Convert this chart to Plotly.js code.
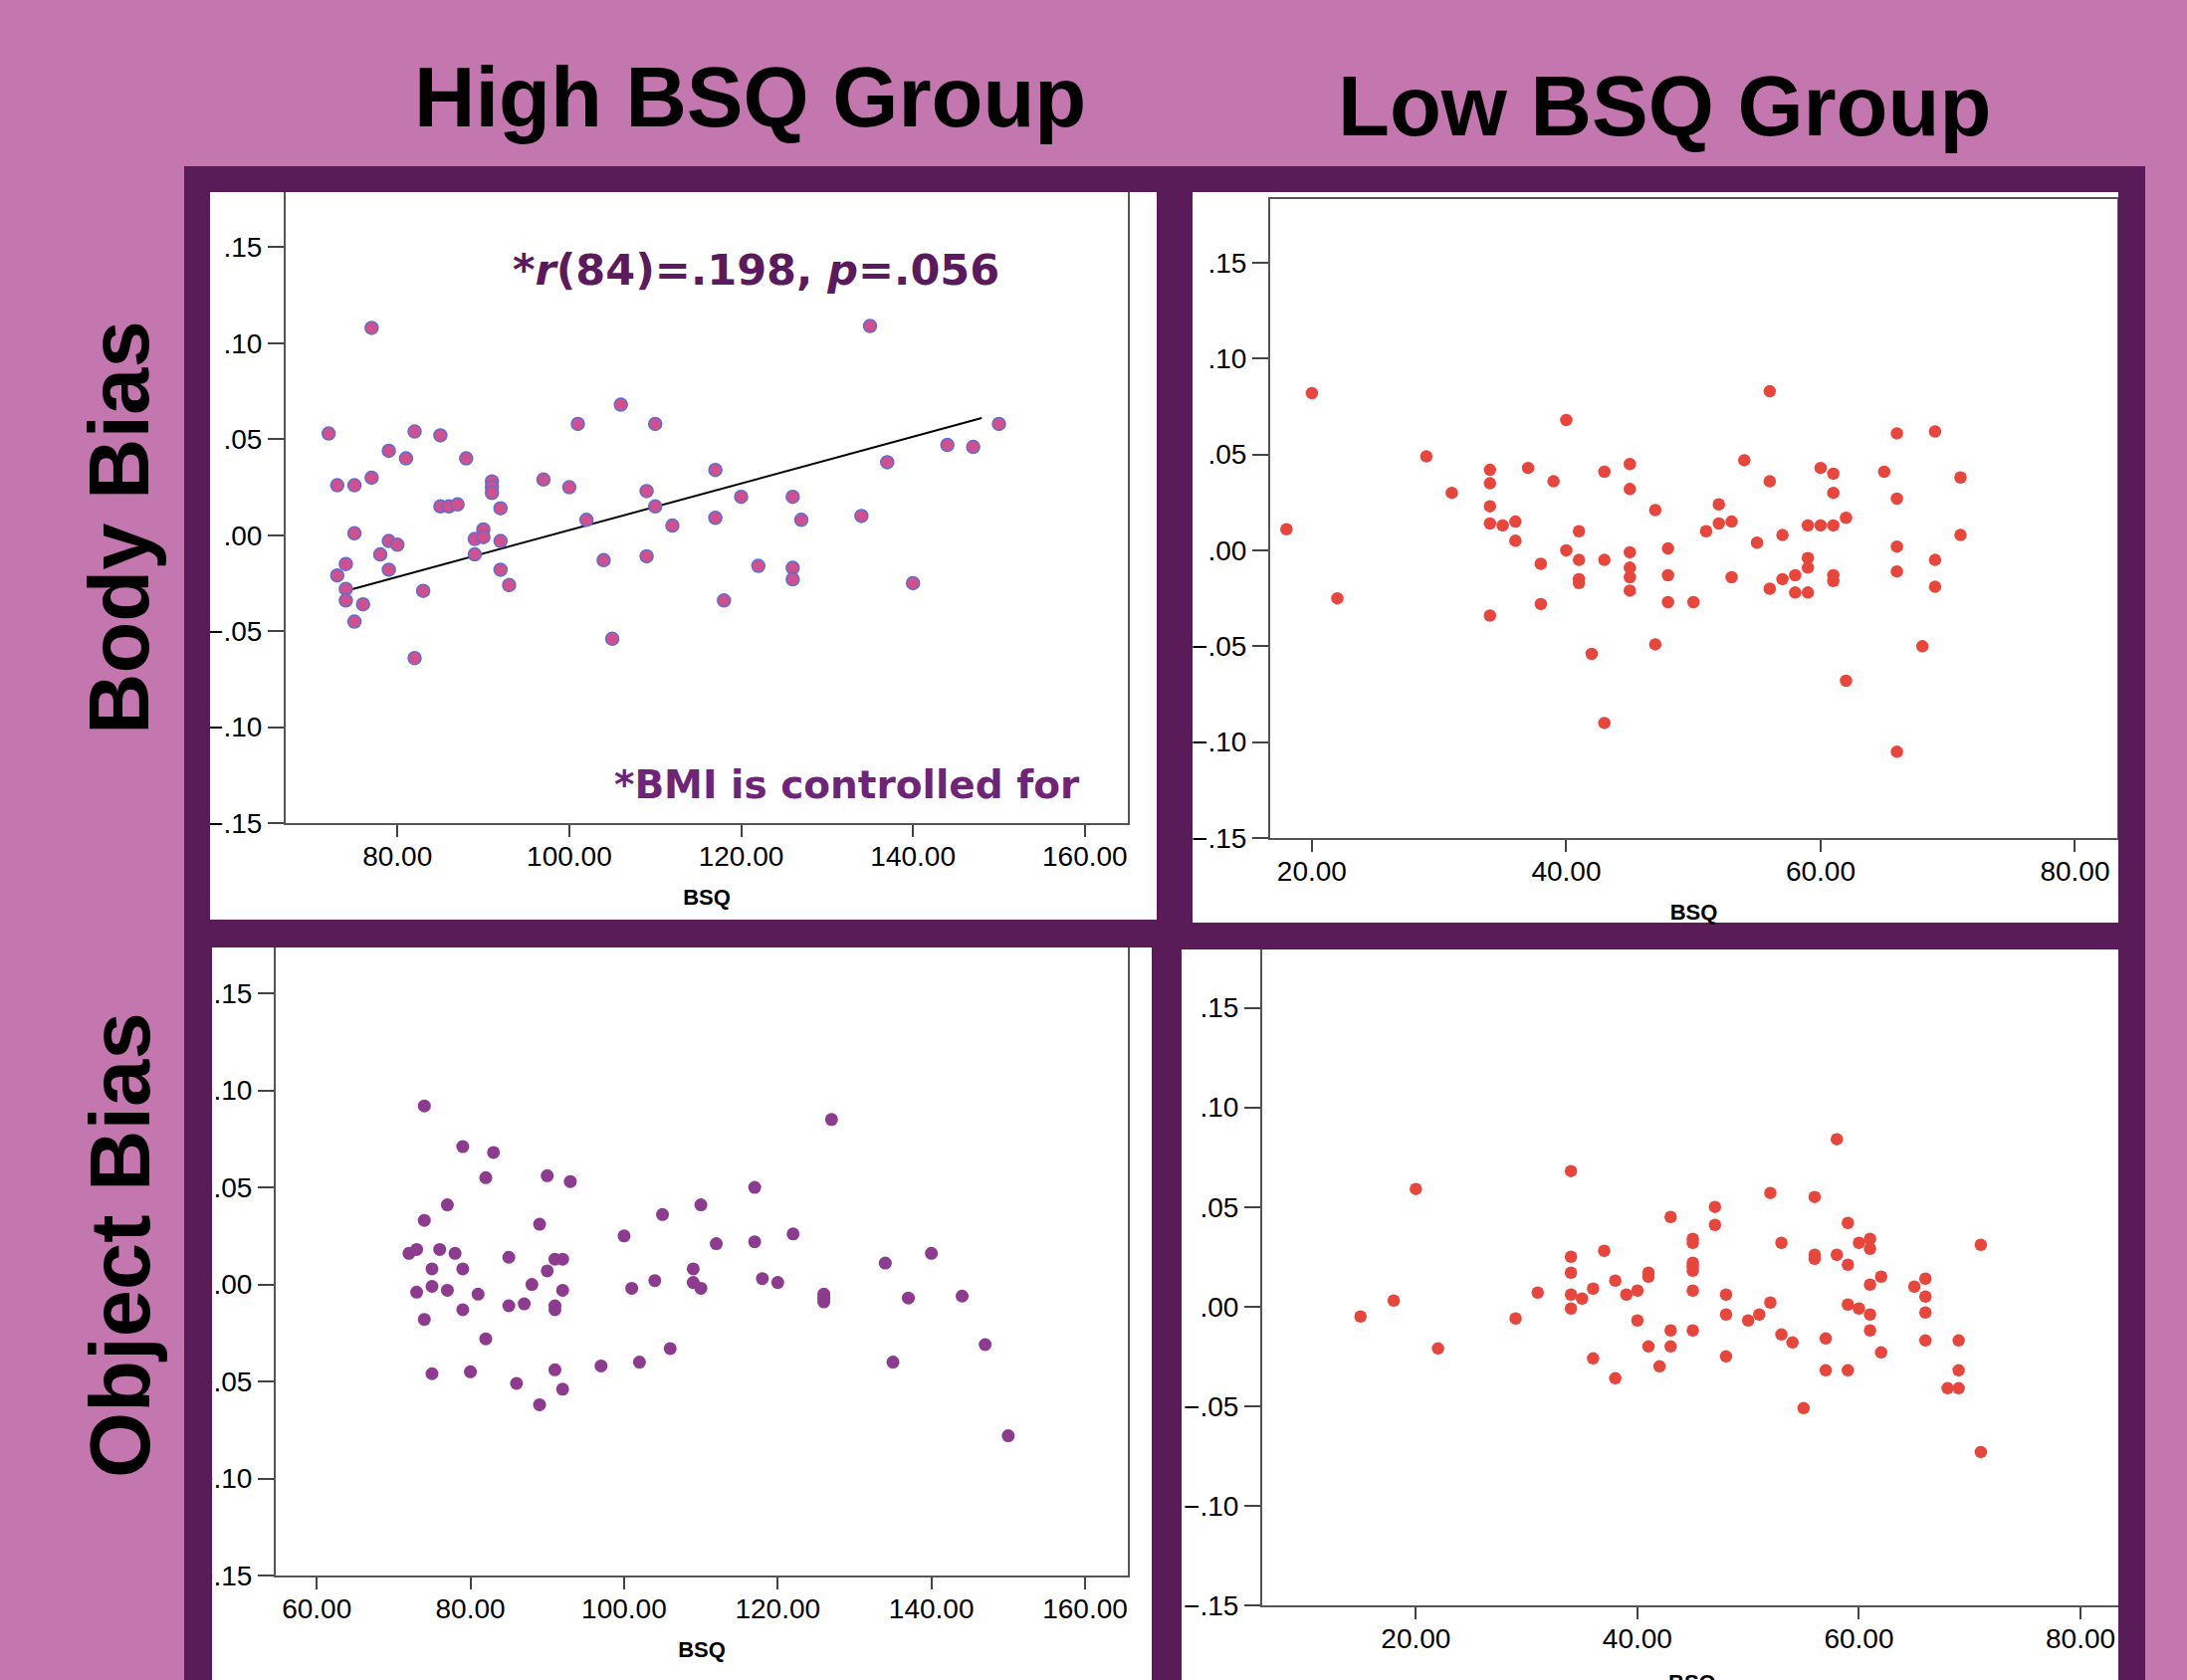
<!DOCTYPE html>
<html>
<head>
<meta charset="utf-8">
<script src="https://cdn.plot.ly/plotly-3.0.1.min.js"></script>
<style>html,body{margin:0;padding:0;background:#C476AE;}#chart{width:2197px;height:1688px;}</style>
</head>
<body>
<div id="chart"></div>
<script>
// ---------- DATA ----------
const columnTitles = ["High BSQ Group", "Low BSQ Group"];
const rowTitles = ["Body Bias", "Object Bias"];
const xTitle = "BSQ";

// High BSQ group – Body bias
const highBodyX = [72,77,73,75,77,79,81,82,85,88, 85,86,87,91,91,91,92,75,73,74, 74,74,76,75,78,79,80,79,83,82, 89,90,90,89,92,92,93,97,100,101, 102,106,110,109,110,112,104,105,109,117, 120,117,118,122,126,127,126,126,135,137, 134,140,144,147,150];
const highBodyY = [.053,.108,.026,.026,.030,.044,.040,.054,.052,.040, .015,.015,.016,.028,.025,.022,.014,.001,-.021,-.015, -.028,-.034,-.036,-.045,-.010,-.003,-.005,-.018,-.029,-.064, -.002,.003,-.001,-.010,-.003,-.018,-.026,.029,.025,.058, .008,.068,.058,.023,.015,.005,-.013,-.054,-.011,.034, .020,.009,-.034,-.016,.020,.008,-.017,-.023,.109,.038, .010,-.025,.047,.046,.058];
// fit line (as drawn)
const fitX = [74, 148];
const fitY = [-0.029, 0.061];

// Low BSQ group – Body bias
const lowBodyX = [18,20,22,29,31,34,34,34,34,35, 36,36,34,37,39,38,38,40,40,41, 41,41,41,42,43,43,43,45,45,45, 45,45,45,47,47,48,48,48,50,51, 52,52,53,53,54,55,56,56,56,57, 57,58,58,59,59,59,59,60,60,61, 61,61,61,61,62,62,65,66,66,66, 66,66,68,69,69,69,71,71];
const lowBodyY = [.011,.082,-.025,.049,.030,.042,.035,.023,.014,.013, .015,.005,-.034,.043,.036,-.007,-.028,.068,.000,.010, -.005,-.015,-.017,-.054,.041,-.005,-.090,.045,.032,-.001, -.009,-.014,-.021,.021,-.049,.001,-.013,-.027,-.027,.010, .024,.014,.015,-.014,.047,.004,.083,.036,-.020,.008, -.015,-.013,-.022,.013,-.004,-.009,-.022,.043,.013,.040, .030,.013,-.013,-.016,.017,-.068,.041,.061,.027,.002, -.011,-.105,-.050,.062,-.005,-.019,.038,.008];

// High BSQ group – Object bias
const highObjX = [72,73,74,74,75,75,73,74,75,76, 77,77,78,79,79,79,80,81,82,82, 83,85,85,86,87,88,89,89,90,90, 91,91,91,91,92,92,92,93,97,100, 101,102,104,105,106,109,109,110,110,112, 117,117,118,120,122,126,126,126,127,134, 135,137,140,144,147,150];
const highObjY = [.016,.018,.092,.033,.008,-.001,-.004,-.018,-.046,.018, .041,-.003,.016,.071,.008,-.013,-.045,-.005,.055,-.028, .068,.014,-.011,-.051,-.010,.000,.031,-.062,.056,.007, .013,-.011,-.013,-.044,.013,-.003,-.054,.053,-.042,.025, -.002,-.040,.002,.036,-.033,.008,.001,.041,-.002,.021, .050,.022,.003,.001,.026,-.005,-.007,-.009,.085,.011, -.040,-.007,.016,-.006,-.031,-.078];

// Low BSQ group – Object bias
const lowObjX = [15,18,20,22,29,31,34,34,34,34, 34,35,36,36,37,38,38,39,40,40, 41,41,41,42,43,43,43,45,45,45, 45,45,45,45,47,47,48,48,48,50, 51,52,52,53,53,54,55,56,56,56, 57,57,58,58,59,59,59,59,60,60, 61,61,61,61,61,62,62,65,66,66, 66,66,68,69,69,69,71,71];
const lowObjY = [-.005,.003,.059,-.021,-.006,.007,.068,.025,.017,.006, -.001,.004,.009,-.026,.028,.013,-.036,.006,.008,-.007, .017,.015,-.020,-.030,.045,-.012,-.020,.034,.032,.022, .020,.018,.008,-.012,.050,.041,.006,-.004,-.025,-.007, -.004,.057,.002,.032,-.014,-.018,-.051,.055,.026,.024, -.016,-.032,.084,.026,.042,.021,.001,-.032,.032,-.001, .034,.029,.011,-.004,-.012,.015,-.023,.010,.014,.005, -.003,-.017,-.041,-.017,-.032,-.041,.031,-.073];

// tick labels
const yTickVals = [-0.15,-0.10,-0.05,0,0.05,0.10,0.15];
const yTickText = ["\u2212.15","\u2212.10","\u2212.05",".00",".05",".10",".15"];
const xTickValsHigh = [60,80,100,120,140,160];
const xTickTextHigh = ["60.00","80.00","100.00","120.00","140.00","160.00"];
const xTickValsLow = [20,40,60,80];
const xTickTextLow = ["20.00","40.00","60.00","80.00"];

const statText = "*<i>r</i>(84)=.198, <i>p</i>=.056";
const noteText = "*BMI is controlled for";

// ---------- LAYOUT HELPERS ----------
const W = 2197, H = 1688;
const fx = p => p / W;
const fy = p => 1 - p / H;

const tickFont = {family: "Liberation Sans, Arial, sans-serif", size: 28, color: "#000"};
const axTitleFont = {family: "Liberation Sans, Arial, sans-serif", size: 22, color: "#000", weight: 700};

function xAxis(dom, range, vals, text, anchor, mirror, withTitle) {
  const ax = {
    domain: dom, range: range, anchor: anchor,
    tickmode: "array", tickvals: vals, ticktext: text,
    ticks: "outside", ticklen: 12, tickwidth: 2, tickcolor: "#444",
    ticklabelstandoff: -5,
    showline: true, linecolor: "#555", linewidth: 2, mirror: mirror,
    showgrid: false, zeroline: false, tickfont: tickFont
  };
  if (withTitle) ax.title = {text: xTitle, font: axTitleFont, standoff: 19};
  return ax;
}
function yAxis(dom, range, anchor, mirror) {
  return {
    domain: dom, range: range, anchor: anchor,
    tickmode: "array", tickvals: yTickVals, ticktext: yTickText,
    ticks: "outside", ticklen: 16, tickwidth: 2, tickcolor: "#444",
    showline: true, linecolor: "#555", linewidth: 2, mirror: mirror,
    showgrid: false, zeroline: false, tickfont: tickFont
  };
}

const pinkMarker = {size: 13, color: "#CF4F8F", line: {color: "#5D6FD3", width: 1.5}};
const redMarker = {size: 12.5, color: "#E8453C", line: {width: 0}};
const purpleMarker = {size: 13, color: "#8C3B8E", line: {width: 0}};

const traces = [
  {x: fitX, y: fitY, type: "scatter", mode: "lines", line: {color: "#000", width: 2}, xaxis: "x", yaxis: "y", hoverinfo: "skip"},
  {x: highBodyX, y: highBodyY, type: "scatter", mode: "markers", marker: pinkMarker, xaxis: "x", yaxis: "y"},
  {x: lowBodyX, y: lowBodyY, type: "scatter", mode: "markers", marker: redMarker, xaxis: "x2", yaxis: "y2"},
  {x: highObjX, y: highObjY, type: "scatter", mode: "markers", marker: purpleMarker, xaxis: "x3", yaxis: "y3"},
  {x: lowObjX, y: lowObjY, type: "scatter", mode: "markers", marker: redMarker, xaxis: "x4", yaxis: "y4"}
];

const purple = "#5A1C58";
function rect(x0, y0, x1, y1, color, layer) {
  return {type: "rect", xref: "paper", yref: "paper", x0: fx(x0), x1: fx(x1), y0: fy(y1), y1: fy(y0),
          fillcolor: color, line: {width: 0}, layer: layer};
}
const shapes = [
  // white panels
  rect(211, 193, 1162, 924, "#fff", "below"),
  rect(1198, 193, 2128, 927, "#fff", "below"),
  rect(213, 952, 1157, 1688, "#fff", "below"),
  rect(1187, 954, 2128, 1688, "#fff", "below"),
  // frame
  rect(185, 167, 2155, 193, purple, "above"),
  rect(185, 167, 211, 952, purple, "above"),
  rect(185, 924, 213, 1688, purple, "above"),
  rect(2128, 167, 2155, 1688, purple, "above"),
  rect(1162, 167, 1198, 954, purple, "above"),
  rect(1157, 924, 1187, 1688, purple, "above"),
  rect(185, 924, 1162, 952, purple, "above"),
  rect(1162, 927, 2155, 954, purple, "above")
];

const bigFont = {family: "Liberation Sans, Arial, sans-serif", size: 85, color: "#000", weight: 700};
const annotations = [
  {text: columnTitles[0], x: fx(753), y: fy(98), xref: "paper", yref: "paper", xanchor: "center", yanchor: "middle", showarrow: false, font: bigFont},
  {text: columnTitles[1], x: fx(1672), y: fy(106), xref: "paper", yref: "paper", xanchor: "center", yanchor: "middle", showarrow: false, font: bigFont},
  {text: rowTitles[0], x: fx(120), y: fy(530), xref: "paper", yref: "paper", xanchor: "center", yanchor: "middle", textangle: -90, showarrow: false, font: bigFont},
  {text: rowTitles[1], x: fx(120), y: fy(1251), xref: "paper", yref: "paper", xanchor: "center", yanchor: "middle", textangle: -90, showarrow: false, font: bigFont},
  {text: statText, x: fx(759), y: fy(271), xref: "paper", yref: "paper", xanchor: "center", yanchor: "middle", showarrow: false,
   font: {family: "DejaVu Sans, Verdana, sans-serif", size: 43, color: "#5C1A5E", weight: 700}},
  {text: noteText, x: fx(851), y: fy(788), xref: "paper", yref: "paper", xanchor: "center", yanchor: "middle", showarrow: false,
   font: {family: "DejaVu Sans, Verdana, sans-serif", size: 39, color: "#702478", weight: 700}},
  // x title of the lower-right panel, cut by the picture's bottom edge
  {text: xTitle, x: fx(1700), y: fy(1676), xref: "paper", yref: "paper", xanchor: "center", yanchor: "top", showarrow: false,
   font: axTitleFont}
];

const layout = {
  width: W, height: H,
  margin: {l: 0, r: 0, t: 0, b: 0, pad: 0},
  paper_bgcolor: "#C476AE", plot_bgcolor: "rgba(0,0,0,0)",
  showlegend: false,
  xaxis: xAxis([fx(287), fx(1133)], [67.0, 165.0], xTickValsHigh, xTickTextHigh, "y", false, true),
  yaxis: yAxis([fy(827), fy(180)], [-0.15, 0.1855], "x", true),
  xaxis2: xAxis([fx(1276), fx(2127)], [16.72, 83.33], xTickValsLow, xTickTextLow, "y2", true, true),
  yaxis2: yAxis([fy(842), fy(200)], [-0.15, 0.1832], "x2", true),
  xaxis3: xAxis([fx(277), fx(1133)], [54.66, 165.57], xTickValsHigh, xTickTextHigh, "y3", false, true),
  yaxis3: yAxis([fy(1583), fy(940)], [-0.15, 0.1798], "x3", true),
  xaxis4: xAxis([fx(1268), fx(2150)], [6.13, 85.39], xTickValsLow, xTickTextLow, "y4", false, false),
  yaxis4: yAxis([fy(1613), fy(940)], [-0.15, 0.18625], "x4", false),
  shapes: shapes,
  annotations: annotations
};

Plotly.newPlot("chart", traces, layout, {staticPlot: true, displayModeBar: false});
</script>
</body>
</html>
